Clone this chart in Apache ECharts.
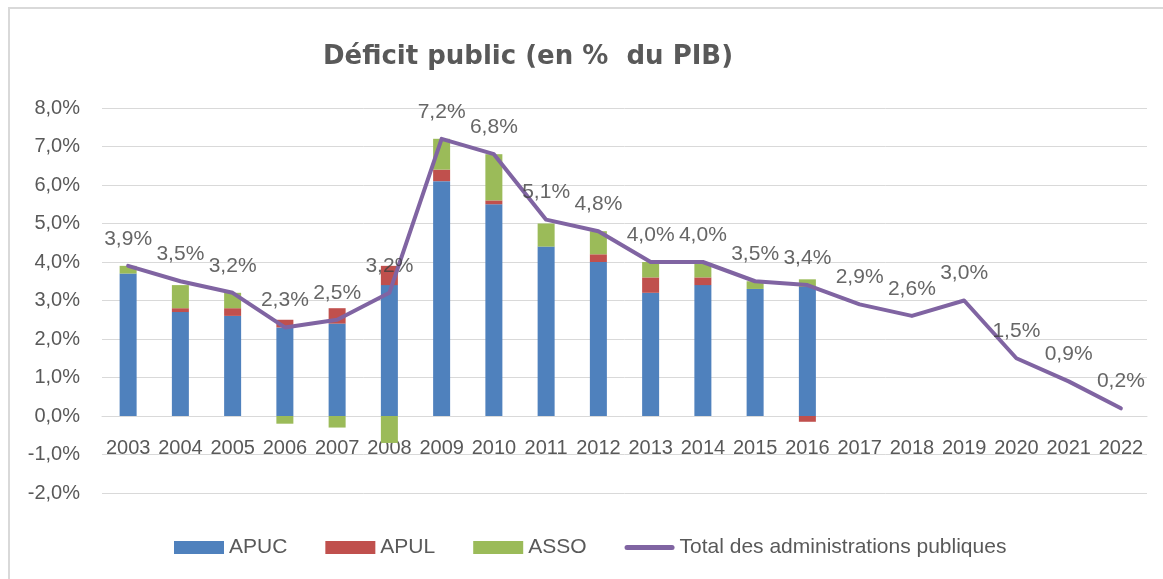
<!DOCTYPE html>
<html>
<head>
<meta charset="utf-8">
<script src="https://cdn.jsdelivr.net/npm/echarts@6/dist/echarts.min.js"></script>
<style>
  html, body { margin: 0; padding: 0; background: #ffffff; }
  #chart { width: 1163px; height: 579px; }
</style>
</head>
<body>
<div id="chart"></div>
<script>
// Data
var years = ['2003', '2004', '2005', '2006', '2007', '2008', '2009', '2010', '2011', '2012',
             '2013', '2014', '2015', '2016', '2017', '2018', '2019', '2020', '2021', '2022'];
var apuc  = [3.7, 2.7, 2.6, 2.3, 2.4, 3.4, 6.1, 5.5, 4.4, 4.0, 3.2, 3.4, 3.3, 3.35, null, null, null, null, null, null];
var apul  = [0, 0.1, 0.2, 0.2, 0.4, 0.5, 0.3, 0.1, 0, 0.2, 0.4, 0.2, 0, -0.15, null, null, null, null, null, null];
var asso  = [0.2, 0.6, 0.4, -0.2, -0.3, -0.7, 0.8, 1.2, 0.6, 0.6, 0.4, 0.35, 0.2, 0.2, null, null, null, null, null, null];
var total = [3.9, 3.5, 3.2, 2.3, 2.5, 3.2, 7.2, 6.8, 5.1, 4.8, 4.0, 4.0, 3.5, 3.4, 2.9, 2.6, 3.0, 1.5, 0.9, 0.2];

var chart = echarts.init(document.getElementById('chart'));

var font = "'Liberation Sans', Arial, sans-serif";
function pct(v) { return v.toFixed(1).replace('.', ',') + '%'; }

var option = {
  backgroundColor: '#ffffff',
  animation: false,
  title: {
    text: 'Déficit public (en %  du PIB)',
    left: 523, top: 39, textAlign: 'center',
    textStyle: { fontFamily: "'DejaVu Sans', sans-serif", fontSize: 26, fontWeight: 'bold', color: '#595959' }
  },
  graphic: [{
    type: 'polyline',
    shape: { points: [[9, 579], [9, 8], [1163, 8]] },
    style: { stroke: '#d9d9d9', lineWidth: 2, fill: null },
    silent: true
  }],
  legend: {
    left: 169, top: 532,
    itemWidth: 50, itemHeight: 13, itemGap: 38,
    textStyle: { fontFamily: font, fontSize: 21, color: '#595959' },
    data: [
      { name: 'APUC', icon: 'rect' },
      { name: 'APUL', icon: 'rect' },
      { name: 'ASSO', icon: 'rect' },
      { name: 'Total des administrations publiques',
        icon: 'path://M5,0 L95,0 A5,5 0 0 1 95,10 L5,10 A5,5 0 0 1 5,0 Z' }
    ]
  },
  grid: { left: 102, right: 16, top: 108, bottom: 86, containLabel: false },
  xAxis: {
    type: 'category',
    data: years,
    offset: -77,
    axisLine: { show: true, onZero: false, lineStyle: { color: '#d9d9d9', width: 1 } },
    axisTick: { show: false },
    axisLabel: { interval: 0, margin: 22, fontFamily: font, fontSize: 20, color: '#595959' }
  },
  yAxis: {
    type: 'value',
    min: -2, max: 8, interval: 1,
    axisLine: { show: false },
    axisTick: { show: false },
    axisLabel: { margin: 22, fontFamily: font, fontSize: 20, color: '#595959', formatter: pct },
    splitLine: { lineStyle: { color: '#d9d9d9', width: 1 } }
  },
  series: [
    { name: 'APUC', type: 'bar', stack: 'd', data: apuc, barWidth: 17,
      itemStyle: { color: '#4F81BD' } },
    { name: 'APUL', type: 'bar', stack: 'd', data: apul, barWidth: 17,
      itemStyle: { color: '#C0504D' } },
    { name: 'ASSO', type: 'bar', stack: 'd', data: asso, barWidth: 17,
      itemStyle: { color: '#9BBB59' } },
    { name: 'Total des administrations publiques', type: 'line', data: total,
      symbol: 'none', z: 5,
      lineStyle: { color: '#8064A2', width: 4, cap: 'round', join: 'round' },
      itemStyle: { color: '#8064A2' }
    },
    // value labels of the total line
    { name: 'labels', type: 'scatter', data: total, z: 6,
      symbol: 'circle', symbolSize: 1,
      itemStyle: { color: 'rgba(0,0,0,0)' },
      label: {
        show: true, position: 'top', distance: 16,
        fontFamily: font, fontSize: 21, color: '#404040',
        formatter: function (p) { return pct(p.value); }
      }
    }
  ]
};

chart.setOption(option);
window.addEventListener('resize', function () { chart.resize(); });
</script>
</body>
</html>
